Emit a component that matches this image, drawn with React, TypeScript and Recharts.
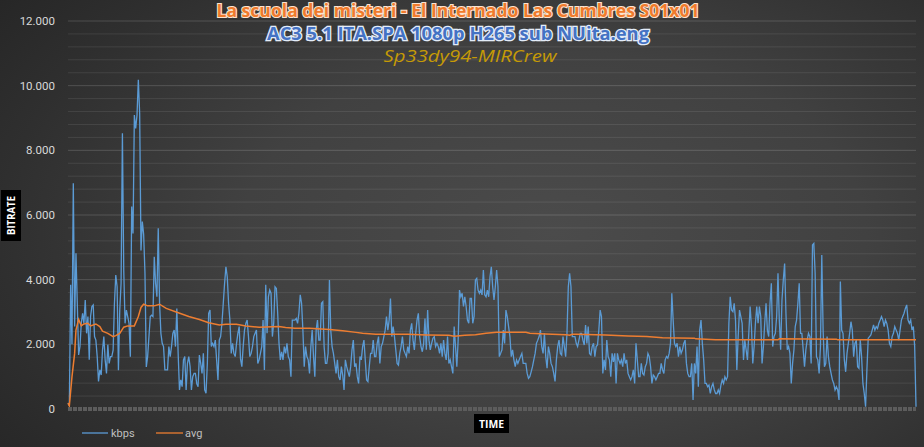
import React from "react";
import { LineChart, Line, XAxis, YAxis, ReferenceLine } from "recharts";

const titleMain = "La scuola dei misteri - El Internado Las Cumbres S01x01";
const titleSub = "AC3 5.1 ITA.SPA 1080p H265 sub NUita.eng";
const titleCredit = "Sp33dy94-MIRCrew";
const yAxisName = "BITRATE";
const xAxisName = "TIME";
const seriesNames = ["kbps", "avg"];

const yTicks = [0, 2000, 4000, 6000, 8000, 10000, 12000];
const minorGrid = [400, 800, 1200, 1600, 2400, 2800, 3200, 3600, 4400, 4800, 5200, 5600, 6400, 6800, 7200, 7600, 8400, 8800, 9200, 9600, 10400, 10800, 11200, 11600];

const kbpsPart1 = [
  180, 100, 3840, 2000, 6980, 2550, 4815, 3270, 1670, 1930,
  2650, 2960, 2650, 3370, 2340, 2860, 1520, 2860, 3170, 3220,
  2240, 2130, 1620, 850, 1210, 1050, 1820, 2240, 1520, 1100,
  1990, 1410, 1620, 1620, 1820, 3270, 4140, 3780, 1200, 3060,
  3890, 8530, 4300, 2650, 3060, 2860, 2650, 1620, 6260, 5430,
  9090, 8680, 9090, 10180, 9140, 4900, 5800, 5400, 4200, 1300,
  1620, 2240, 2860, 2900, 2860, 4710, 3890, 3470, 5590, 3270,
  2340, 2030, 1930, 1210, 1210, 1210, 1930, 1620, 1930, 2340,
  2440, 1930, 3110, 1720, 590, 900, 690, 1520, 1620, 590,
  1410, 1620, 1310, 590, 1000, 1100, 1100, 790, 690, 1670,
  1410, 1100, 1720, 590, 490, 1410, 2960, 3060, 1930, 2030,
  1930, 2130, 1520, 900, 2130, 2240, 2650, 3270, 3890, 4400,
  4090, 3270, 2750, 1720, 2030, 1720,
];
const kbpsPart2 = [
  1620, 2030, 2340, 2550, 1550, 1310, 1930, 2440, 2650,
  2750, 2240, 1620, 1720, 1930, 2240, 2340, 2440, 1410, 1520,
  1720, 1930, 2750, 1210, 3840, 2340, 3470, 3680, 3580, 2240,
  2650, 3780, 3730, 2960, 2030, 1520, 1770, 1520, 1930, 1720,
  2030, 1620, 1520, 1000, 2750, 2750, 2750, 2800, 2650, 2960,
  3530, 3270, 2440, 1310, 1930, 1620, 1520, 1100, 1930, 2440,
  1620, 1000, 2440, 2750, 2130, 2130, 3270, 3320, 1930, 1410,
  1410, 1720, 3990, 2440, 1930, 1720, 1410, 1100, 1520, 1000,
  900, 1310, 1050, 590, 1520, 1310, 1150, 1000, 1310, 1830,
  2130, 1310, 1410, 1000, 790, 1620, 1520, 1930, 2130, 1520,
  900, 850, 1310, 1720, 1720, 2130, 1620, 1620, 2030, 2240,
  1410, 1930, 2030, 2240, 2440, 2860, 2440, 2750, 3420, 2240,
  2550, 2240, 1830, 1410, 1360, 1720, 1930, 2240, 1830,
];
const kbpsPart3 = [
  1720, 1620, 1930, 1720, 2440, 2650, 2130, 1830, 2340,
  2750, 2960, 2240, 1930, 1770, 2030, 2800, 1830, 3060, 2130,
  1830, 2030, 2190, 2240, 1930, 2030, 1930, 1720, 2030, 1620,
  2130, 1720, 1520, 2240, 1410, 1520, 1310, 1100, 2550, 1930,
  1310, 2130, 3680, 3470, 3580, 3170, 3470, 3170, 2750, 2650,
  3420, 3420, 2650, 2860, 3990, 4040, 3680, 3580, 3680, 3530,
  4300, 3530, 3470, 3680, 3470, 4090, 4400, 3780, 3370, 3780,
  4300, 3780, 1620, 1720, 1830, 2440, 2030, 3060, 2860, 2550,
  2240, 1620, 1830, 1520, 1310, 1520, 1410, 1520, 1620, 1720,
  1410, 1410, 1410, 1100, 950, 1000, 1150, 1310, 1520, 1720,
  2030, 2130, 2240, 2440, 1930, 1720, 2340, 1620, 1260, 1930,
  1720, 1410, 1310, 1100, 850, 1520, 1930, 2130, 1720, 1670,
  2240, 1930, 1620, 2340, 3780, 4200, 3780, 2240, 2240,
];
const kbpsPart4 = [
  2240, 2030, 1930, 2130, 2340, 2340, 2130, 1980, 2600,
  2030, 2550, 1720, 1670, 1930, 2030, 1620, 1930, 1980, 2440,
  3060, 2860, 1100, 1520, 1210, 2130, 1620, 1520, 1000, 1720,
  1460, 1720, 790, 1720, 1520, 1410, 1520, 1310, 1720, 1410,
  1520, 1100, 1000, 900, 1000, 1210, 790, 2030, 1520, 1000,
  1000, 1410, 1100, 1050, 1310, 1410, 1720, 1620, 1310, 790,
  1050, 1000, 900, 1000, 1100, 1100, 1410, 1210, 1100, 1520,
  1620, 1570, 1720, 2030, 3580, 2750, 2030, 1930, 2030, 1620,
  1930, 1720, 1830, 2030, 2130, 1410, 1100, 1000, 1000, 1410,
  280, 1410, 1100, 1930, 690, 2440, 2750, 2030, 1520, 790,
  790, 690, 740, 480, 690, 790, 590, 480, 480, 590,
  480, 740, 900, 790, 1000, 900, 1000, 2650, 3470, 3060,
  3010, 3270, 2750, 1210, 2240, 3060, 2860, 2650, 1520, 2130,
];
const kbpsPart5 = [
  1830, 1520, 2340, 3170, 2550, 1410, 1930, 2650, 3170,
  2650, 3170, 2860, 1410, 1930, 2650, 3270, 2440, 2240, 3270,
  3890, 1930, 2240, 2340, 2860, 4200, 2750, 1830, 3370, 3990,
  4500, 2960, 1830, 1930, 1720, 790, 1410, 1830, 2550, 2750,
  3270, 3890, 2340, 2340, 1830, 1310, 1830, 2130, 2340, 2240,
  1410, 5070, 5120, 4200, 1620, 1520, 1100, 1930, 4760, 2440,
  1310, 1410, 2240, 1620, 1310, 1100, 900, 790, 590, 690,
  590, 280, 3940, 2440, 2340, 1520, 1150, 1720, 2030, 2340,
  2700, 2440, 1620, 2030, 2130, 1310, 1260, 2130, 1620, 790,
  480, 70, 1210, 2190, 2240, 2290, 2440, 2600, 2440, 2550,
  2490, 2650, 2750, 2860, 2750, 2550, 2750, 2650, 2440, 2030,
  1930, 2240, 2340, 2550, 2440, 2340, 2130, 2440, 2750, 2860,
  2960, 3110, 3220, 2750, 2650, 2750, 2440, 2550, 1930, 70,
];

const kbps = [...kbpsPart1, ...kbpsPart2, ...kbpsPart3, ...kbpsPart4, ...kbpsPart5];

const avgIndex = [
  0, 1, 3, 5, 6, 8, 10, 12, 15, 17, 21, 24, 26, 30, 34, 36, 39, 42, 45, 50,
  53, 55, 57, 60, 65, 69, 74, 81, 91, 99, 106, 114, 119, 127, 134, 144, 159, 164, 171, 182,
  197, 207, 217, 222, 232, 256, 270, 287, 291, 299, 307, 315, 323, 345, 348, 360, 375, 378, 380, 383,
  405, 422, 436, 448, 472, 473, 488, 535, 536, 579, 580, 639,
];
const avgValues = [
  180, 100, 1000, 1720, 2440, 2770, 2570, 2630, 2650, 2570, 2630, 2550, 2410, 2340, 2240, 2270, 2340, 2530, 2570, 2570,
  2860, 3140, 3240, 3190, 3190, 3240, 3110, 3010, 2860, 2770, 2670, 2600, 2620, 2620, 2570, 2530, 2550, 2520, 2500, 2500,
  2460, 2420, 2370, 2340, 2310, 2310, 2290, 2280, 2250, 2280, 2300, 2340, 2370, 2370, 2340, 2320, 2300, 2280, 2310, 2310,
  2290, 2260, 2240, 2200, 2190, 2170, 2140, 2140, 2170, 2160, 2140, 2140,
];

const kbpsRows = kbps.map((v, i) => ({ i, kbps: v }));
const avgRows = avgIndex.map((i, k) => ({ i, avg: avgValues[k] }));
const lastIndex = kbps.length - 1;

const fmt = (v: number) => (v === 0 ? "0" : v.toLocaleString("de-DE"));

export default function App() {
  return (
    <div
      style={{
        position: "absolute",
        left: 0,
        top: 0,
        width: 924,
        height: 447,
        background:
          "radial-gradient(ellipse 75% 90% at 60% 52%, #4b4b4b 0%, #414141 45%, #2f2f2f 80%, #262626 100%)",
        overflow: "hidden",
      }}
    >
      <LineChart
        width={924}
        height={447}
        data={kbpsRows}
        margin={{ top: 21, right: 8, bottom: 8, left: 0 }}
      >
        {minorGrid.map((v) => (
          <ReferenceLine key={"m" + v} y={v} stroke="#ffffff" strokeOpacity={0.09} strokeWidth={1} />
        ))}
        {yTicks.slice(1).map((v) => (
          <ReferenceLine key={"M" + v} y={v} stroke="#ffffff" strokeOpacity={0.16} strokeWidth={1} />
        ))}
        <XAxis
          dataKey="i"
          type="number"
          domain={[0, lastIndex]}
          tick={false}
          tickLine={false}
          height={30}
          axisLine={{ stroke: "#5c5c5c", strokeWidth: 4, strokeDasharray: "4 1" }}
        />
        <YAxis
          domain={[0, 12000]}
          ticks={yTicks}
          width={68}
          axisLine={false}
          tickLine={false}
          tickMargin={7}
          tickFormatter={fmt}
          tick={{ fill: "#d9d9d9", fontSize: 11.5, fontFamily: "Roboto, sans-serif" }}
        />
        <Line
          dataKey="kbps"
          stroke="#5b9bd5"
          strokeWidth={1.3}
          dot={false}
          isAnimationActive={false}
          type="linear"
        />
        <Line
          data={avgRows}
          dataKey="avg"
          stroke="#ed7d31"
          strokeWidth={1.5}
          dot={false}
          isAnimationActive={false}
          type="linear"
        />
      </LineChart>
      <svg
        width={924}
        height={447}
        style={{ position: "absolute", left: 0, top: 0, pointerEvents: "none" }}
      >
        <text
          x={458}
          y={17}
          textAnchor="middle"
          textLength={483}
          lengthAdjust="spacingAndGlyphs"
          fontFamily="'Open Sans', sans-serif"
          fontWeight={700}
          fontSize={17}
          fill="#f07b2c"
          stroke="#fbe3d0"
          strokeWidth={2.2}
          style={{ paintOrder: "stroke" }}
        >
          {titleMain}
        </text>
        <text
          x={458}
          y={40}
          textAnchor="middle"
          textLength={382}
          lengthAdjust="spacingAndGlyphs"
          fontFamily="'Open Sans', sans-serif"
          fontWeight={700}
          fontSize={17}
          fill="#4472c4"
          stroke="#e3ecf8"
          strokeWidth={2.6}
          style={{ paintOrder: "stroke" }}
        >
          {titleSub}
        </text>
        <text
          x={470}
          y={62}
          textAnchor="middle"
          textLength={173}
          lengthAdjust="spacingAndGlyphs"
          fontFamily="'Open Sans', sans-serif"
          fontStyle="italic"
          fontSize={17}
          fill="#c59a06"
        >
          {titleCredit}
        </text>

        <rect x={1} y={190} width={20} height={51} fill="#000000" />
        <text
          x={0}
          y={0}
          transform="translate(15,215.5) rotate(-90)"
          textAnchor="middle"
          textLength={39}
          lengthAdjust="spacingAndGlyphs"
          fontFamily="'Open Sans', sans-serif"
          fontWeight={700}
          fontSize={11}
          fill="#ffffff"
        >
          {yAxisName}
        </text>

        <rect x={474} y={414} width={35} height={19} fill="#000000" />
        <text
          x={491.5}
          y={427.5}
          textAnchor="middle"
          textLength={25}
          lengthAdjust="spacingAndGlyphs"
          fontFamily="'Open Sans', sans-serif"
          fontWeight={700}
          fontSize={11}
          fill="#ffffff"
        >
          {xAxisName}
        </text>

        <line x1={82} y1={433} x2={108} y2={433} stroke="#5b9bd5" strokeWidth={1.3} />
        <text x={111} y={437} fontFamily="Roboto, sans-serif" fontSize={11} fill="#bfbfbf">
          {seriesNames[0]}
        </text>
        <line x1={156} y1={433} x2={183} y2={433} stroke="#ed7d31" strokeWidth={1.3} />
        <text x={185} y={437} fontFamily="Roboto, sans-serif" fontSize={11} fill="#bfbfbf">
          {seriesNames[1]}
        </text>
      </svg>
    </div>
  );
}
